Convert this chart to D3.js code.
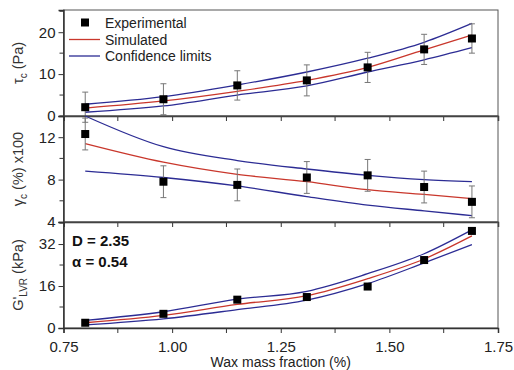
<!DOCTYPE html>
<html>
<head>
<meta charset="utf-8">
<script src="https://cdn.jsdelivr.net/npm/d3@7"></script>
<style>
body { margin: 0; background: #fff; }
text { font-family: "Liberation Sans", Arial, sans-serif; }
</style>
</head>
<body>
<div id="chart"></div>
<script>
var w = 514,
	h = 370,
	left = 63.5,
	right = 498,
	panelTops = [10, 116, 222],
	panelH = 106;

// wax mass fraction (%)
var wax = [0.80, 0.98, 1.15, 1.31, 1.45, 1.58, 1.69];

// tau_c (Pa)
var tauExp = [2.1, 4.0, 7.3, 8.5, 11.6, 15.9, 18.5],
	tauErr = [3.6, 3.7, 3.5, 3.7, 3.6, 3.6, 3.5],
	tauSim = [1.9, 3.6, 5.9, 8.5, 11.6, 15.8, 19.3],
	tauUp = [2.8, 4.6, 7.4, 10.5, 13.8, 17.6, 22.1],
	tauLow = [0.9, 2.4, 5.0, 7.2, 10.5, 13.4, 16.3];

// gamma_c (%) x100
var gamExp = [12.3, 7.8, 7.5, 8.2, 8.4, 7.3, 5.9],
	gamErr = [1.5, 1.5, 1.5, 1.5, 1.5, 1.5, 1.5],
	gamSim = [11.4, 9.65, 8.5, 7.8, 7.05, 6.6, 6.2],
	gamUp = [14.0, 11.1, 9.8, 9.0, 8.4, 8.0, 7.8],
	gamLow = [8.8, 8.2, 7.4, 6.4, 5.6, 5.05, 4.6];

// G'_LVR (kPa)
var gExp = [2.0, 5.4, 10.8, 11.8, 15.8, 25.9, 37.0],
	gErr = [0.8, 0.8, 0.9, 0.8, 0.9, 0.9, 0.9],
	gSim = [2.0, 4.8, 9.0, 12.3, 18.8, 26.3, 35.1],
	gUp = [2.9, 6.2, 11.0, 14.0, 20.7, 28.3, 37.4],
	gLow = [1.2, 3.5, 7.0, 10.6, 16.9, 24.8, 31.8];

var xTicks = [0.75, 1.00, 1.25, 1.50, 1.75],
	xMinor = [0.875, 1.125, 1.375, 1.625];

var panels = [
	{ exp: tauExp, err: tauErr, sim: tauSim, up: tauUp, low: tauLow,
	  domain: [0, 25.3], ticks: [0, 10, 20], minor: [5, 15, 25],
	  label: ['\u03c4', 'c', ' (Pa)'] },
	{ exp: gamExp, err: gamErr, sim: gamSim, up: gamUp, low: gamLow,
	  domain: [4, 14], ticks: [4, 8, 12], minor: [6, 10, 14],
	  label: ['\u03b3', 'c', ' (%) x100'] },
	{ exp: gExp, err: gErr, sim: gSim, up: gUp, low: gLow,
	  domain: [0, 40.4], ticks: [0, 16, 32], minor: [8, 24, 40],
	  label: ['G\'', 'LVR', ' (kPa)'] }
];

var red = '#c9372c',
	blue = '#2c2c94',
	axisCol = '#333';

var svg = d3.select('#chart').append('svg')
	.attr('width', w)
	.attr('height', h);

var x = d3.scaleLinear().domain([0.75, 1.75]).range([left, right]);

panels.forEach(function(p, i) {
	var top = panelTops[i],
		bottom = top + panelH;
	var y = d3.scaleLinear().domain(p.domain).range([bottom, top]);
	var g = svg.append('g');

	var line = d3.line()
		.curve(d3.curveMonotoneX)
		.x(function(d, j) { return x(wax[j]); })
		.y(function(d) { return y(d); });

	// frame
	g.append('rect')
		.attr('x', left).attr('y', top)
		.attr('width', right - left).attr('height', panelH)
		.attr('fill', 'none').attr('stroke', '#555').attr('stroke-width', 1);

	// confidence limits + simulated
	[p.up, p.low].forEach(function(s) {
		g.append('path').datum(s)
			.attr('d', line)
			.attr('fill', 'none').attr('stroke', blue).attr('stroke-width', 1.3);
	});
	g.append('path').datum(p.sim)
		.attr('d', line)
		.attr('fill', 'none').attr('stroke', red).attr('stroke-width', 1.3);

	// error bars
	var eb = g.selectAll('g.err').data(p.exp).enter().append('g');
	eb.append('line')
		.attr('x1', function(d, j) { return x(wax[j]); })
		.attr('x2', function(d, j) { return x(wax[j]); })
		.attr('y1', function(d, j) { return y(d - p.err[j]); })
		.attr('y2', function(d, j) { return y(d + p.err[j]); })
		.attr('stroke', '#777').attr('stroke-width', 1);
	[-1, 1].forEach(function(sgn) {
		eb.append('line')
			.attr('x1', function(d, j) { return x(wax[j]) - 3; })
			.attr('x2', function(d, j) { return x(wax[j]) + 3; })
			.attr('y1', function(d, j) { return y(d + sgn * p.err[j]); })
			.attr('y2', function(d, j) { return y(d + sgn * p.err[j]); })
			.attr('stroke', '#777').attr('stroke-width', 1);
	});

	// markers
	g.selectAll('rect.pt').data(p.exp).enter().append('rect')
		.attr('x', function(d, j) { return x(wax[j]) - 4; })
		.attr('y', function(d) { return y(d) - 4; })
		.attr('width', 8).attr('height', 8)
		.attr('fill', '#000');

	// y axis
	var yAxis = d3.axisLeft(y).tickValues(p.ticks).tickSize(5).tickPadding(3);
	var ya = g.append('g').attr('transform', 'translate(' + left + ',0)').call(yAxis);
	ya.append('g').selectAll('line').data(p.minor).enter().append('line')
		.attr('x1', -4).attr('x2', 0)
		.attr('y1', function(d) { return y(d); })
		.attr('y2', function(d) { return y(d); })
		.attr('stroke', axisCol);

	// x axis (ticks outward on every panel, labels only at the bottom)
	var xAxis = d3.axisBottom(x).tickValues(xTicks).tickSize(5)
		.tickFormat(i == 2 ? d3.format('.2f') : '').tickPadding(8);
	var xa = g.append('g').attr('transform', 'translate(0,' + bottom + ')').call(xAxis);
	xa.append('g').selectAll('line').data(xMinor).enter().append('line')
		.attr('x1', function(d) { return x(d); })
		.attr('x2', function(d) { return x(d); })
		.attr('y1', 0).attr('y2', 5)
		.attr('stroke', axisCol);

	[ya, xa].forEach(function(a) {
		a.select('.domain').attr('stroke', axisCol).attr('stroke-width', 1.5);
		a.selectAll('.tick line').attr('stroke', axisCol);
		a.selectAll('.tick text').attr('fill', '#222').style('font-size', '15px')
			.style('font-family', '"Liberation Sans", Arial, sans-serif');
	});

	// y label with subscript
	var lab = g.append('text')
		.attr('transform', 'translate(23,' + (top + panelH / 2) + ') rotate(-90)')
		.attr('text-anchor', 'middle')
		.attr('fill', '#333')
		.style('font-size', '14.5px');
	lab.append('tspan').text(p.label[0]);
	lab.append('tspan').attr('dy', 4).style('font-size', '10px').text(p.label[1]);
	lab.append('tspan').attr('dy', -4).text(p.label[2]);
});

// legend
var leg = svg.append('g').style('font-size', '14px');
leg.append('rect').attr('x', 81).attr('y', 18.5).attr('width', 8).attr('height', 8).attr('fill', '#000');
leg.append('text').attr('x', 105).attr('y', 27.5).attr('fill', '#222').text('Experimental');
leg.append('line').attr('x1', 69).attr('x2', 100).attr('y1', 39.5).attr('y2', 39.5)
	.attr('stroke', red).attr('stroke-width', 1.3);
leg.append('text').attr('x', 105).attr('y', 44.5).attr('fill', '#222').text('Simulated');
leg.append('line').attr('x1', 69).attr('x2', 100).attr('y1', 56).attr('y2', 56)
	.attr('stroke', blue).attr('stroke-width', 1.3);
leg.append('text').attr('x', 105).attr('y', 61).attr('fill', '#222').text('Confidence limits');

// fit parameters
var par = svg.append('g').style('font-size', '15px').style('font-weight', 'bold').attr('fill', '#111');
par.append('text').attr('x', 72).attr('y', 246).text('D = 2.35');
par.append('text').attr('x', 72).attr('y', 267).text('\u03b1  = 0.54');

// x title
svg.append('text')
	.attr('x', (left + right) / 2).attr('y', 367)
	.attr('text-anchor', 'middle').attr('fill', '#222')
	.style('font-size', '14px')
	.text('Wax mass fraction (%)');
</script>
</body>
</html>
